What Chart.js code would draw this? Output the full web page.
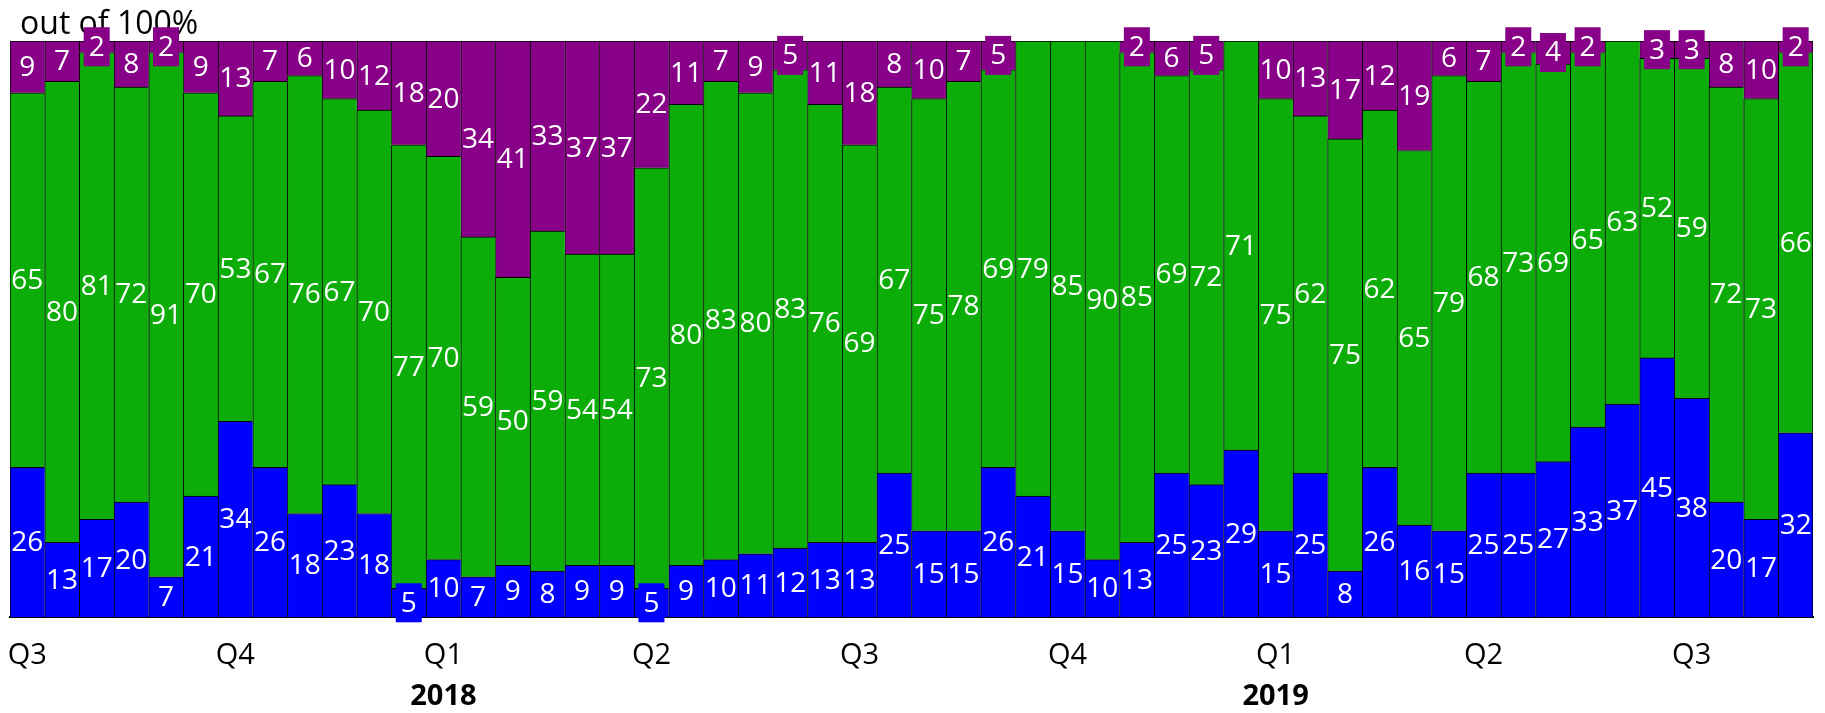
<!DOCTYPE html>
<html>
<head>
<meta charset="utf-8">
<script src="https://cdn.jsdelivr.net/npm/chart.js@4/dist/chart.umd.min.js"></script>
<style>
  html, body { margin: 0; padding: 0; background: #fff; }
  #wrap { width: 1825px; height: 713px; position: relative; }
</style>
</head>
<body>
<div id="wrap"><canvas id="chart"></canvas></div>
<script>
const chartTitle = 'out of 100%';

// one tick slot per bar, quarter names only where a quarter starts
const quarterTicks = [
  'Q3', '', '', '', '', '', 'Q4', '', '', '', '', '', 'Q1', '', '', '', '', '', 'Q2', '', '', '', '', '', 'Q3', '', '',
  '', '', '', 'Q4', '', '', '', '', '', 'Q1', '', '', '', '', '', 'Q2', '', '', '', '', '', 'Q3', '', '', ''
];
const yearTicks = [
  '', '', '', '', '', '', '', '', '', '', '', '', '2018', '', '', '', '', '', '', '', '', '', '', '', '', '', '',
  '', '', '', '', '', '', '', '', '', '2019', '', '', '', '', '', '', '', '', '', '', '', '', '', '', ''
];

const blueValues = [26, 13, 17, 20, 7, 21, 34, 26, 18, 23, 18, 5, 10, 7, 9, 8, 9, 9, 5, 9, 10, 11, 12, 13, 13, 25,
  15, 15, 26, 21, 15, 10, 13, 25, 23, 29, 15, 25, 8, 26, 16, 15, 25, 25, 27, 33, 37, 45, 38, 20, 17, 32];
const greenValues = [65, 80, 81, 72, 91, 70, 53, 67, 76, 67, 70, 77, 70, 59, 50, 59, 54, 54, 73, 80, 83, 80, 83, 76, 69, 67,
  75, 78, 69, 79, 85, 90, 85, 69, 72, 71, 75, 62, 75, 62, 65, 79, 68, 73, 69, 65, 63, 52, 59, 72, 73, 66];
const purpleValues = [9, 7, 2, 8, 2, 9, 13, 7, 6, 10, 12, 18, 20, 34, 41, 33, 37, 37, 22, 11, 7, 9, 5, 11, 18, 8,
  10, 7, 5, 0, 0, 0, 2, 6, 5, 0, 10, 13, 17, 12, 19, 6, 7, 2, 4, 2, 0, 3, 3, 8, 10, 2];

const BLUE = '#0000ff';
const GREEN = '#0cad08';
const PURPLE = '#880088';

// title + white value labels; small segments get a box in the series colour
const valueLabels = {
  id: 'valueLabels',
  afterDraw(chart) {
    const ctx = chart.ctx;
    ctx.save();
    ctx.font = '32px "Open Sans"';
    ctx.fillStyle = '#000';
    ctx.textAlign = 'left';
    ctx.textBaseline = 'alphabetic';
    ctx.fillText(chartTitle, 20, 34);

    ctx.font = '28px "Open Sans"';
    ctx.textAlign = 'center';
    ctx.textBaseline = 'middle';
    chart.data.datasets.forEach((ds, di) => {
      const meta = chart.getDatasetMeta(di);
      meta.data.forEach((bar, i) => {
        const v = ds.data[i];
        if (!v) return;
        const txt = String(v);
        const y = (bar.y + bar.base) / 2;
        if (Math.abs(bar.base - bar.y) < 34) {
          const w = ctx.measureText(txt).width + 10;
          ctx.fillStyle = ds.backgroundColor;
          ctx.fillRect(bar.x - w / 2, y - 19.5, w, 39);
        }
        ctx.fillStyle = '#fff';
        ctx.fillText(txt, bar.x, y + 1);
      });
    });
    ctx.restore();
  }
};

const lastIdx = blueValues.length - 1;
const barStyle = color => ({
  backgroundColor: color,
  borderColor: '#000',
  borderWidth: ctx => ({ top: 1, left: 1, right: ctx.dataIndex === lastIdx ? 1 : 0, bottom: 0 }),
  barPercentage: 1,
  categoryPercentage: 1
});

new Chart(document.getElementById('chart'), {
  type: 'bar',
  data: {
    labels: quarterTicks,
    datasets: [
      { label: 'blue', data: blueValues, ...barStyle(BLUE) },
      { label: 'green', data: greenValues, ...barStyle(GREEN) },
      { label: 'purple', data: purpleValues, ...barStyle(PURPLE) }
    ]
  },
  options: {
    responsive: true,
    maintainAspectRatio: false,
    animation: false,
    layout: { padding: { top: 41, left: 10, right: 12, bottom: 0 } },
    plugins: {
      legend: { display: false },
      tooltip: { enabled: false },
      title: { display: false }
    },
    scales: {
      x: {
        stacked: true,
        offset: true,
        z: 1,
        // tick marks are invisible, tickLength only makes room above the labels
        grid: { display: true, drawOnChartArea: false, drawTicks: true, tickLength: 21.6, color: 'rgba(0,0,0,0)' },
        border: { display: true, color: '#000', width: 2 },
        ticks: {
          autoSkip: false,
          maxRotation: 0,
          padding: 0,
          color: '#000',
          font: { family: 'Open Sans', size: 29, lineHeight: 1.2 }
        }
      },
      x2: {
        type: 'category',
        labels: yearTicks,
        position: 'bottom',
        offset: true,
        grid: { display: true, drawOnChartArea: false, drawTicks: true, tickLength: 7.5, color: 'rgba(0,0,0,0)' },
        border: { display: false },
        ticks: {
          autoSkip: false,
          maxRotation: 0,
          padding: 0,
          color: '#000',
          font: { family: 'Open Sans', size: 29, weight: 'bold', lineHeight: 1.1 }
        }
      },
      y: {
        display: false,
        stacked: true,
        min: 0,
        max: 100
      }
    }
  },
  plugins: [valueLabels]
});
</script>
</body>
</html>
